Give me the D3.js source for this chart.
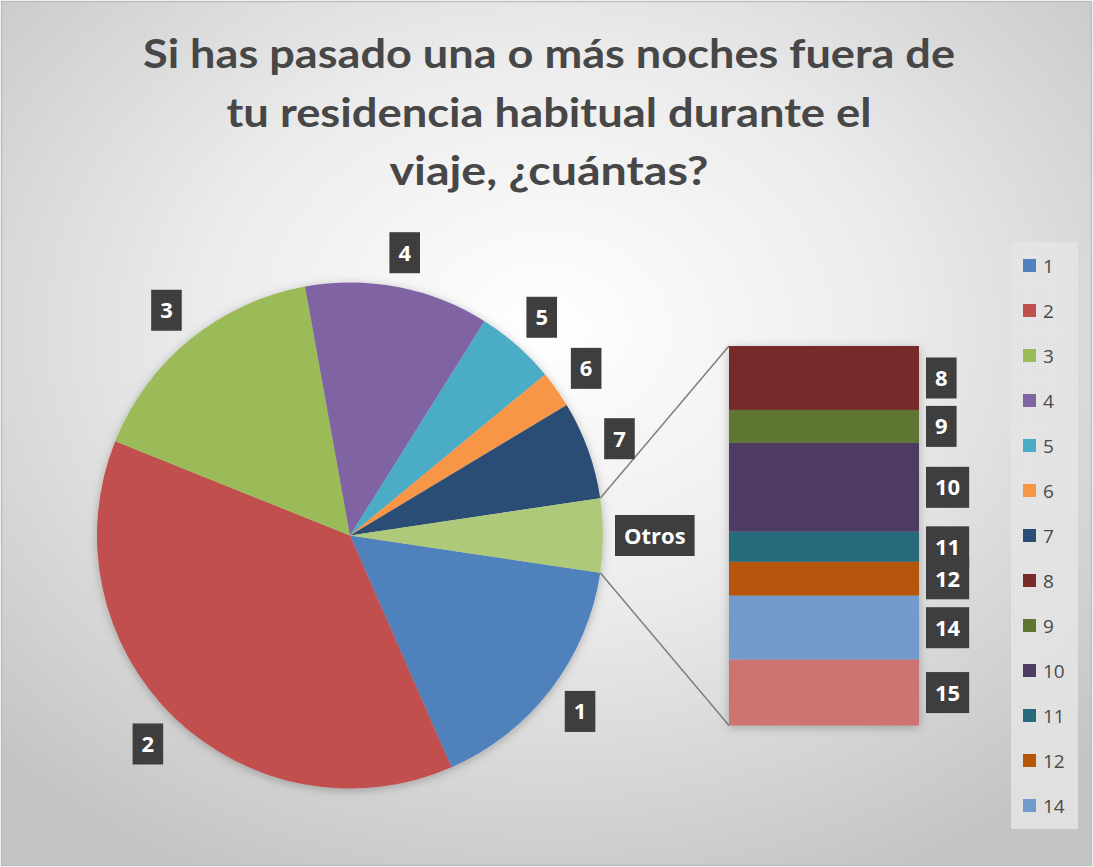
<!DOCTYPE html>
<html>
<head>
<meta charset="utf-8">
<script src="https://cdn.jsdelivr.net/npm/d3@7"></script>
<style>
  body { margin: 0; background: #fff; }
  svg { display: block; }
</style>
</head>
<body>
<svg id="chart"></svg>
<script>
// data
let pieCats = ['1', '2', '3', '4', '5', '6', '7']
let pieVals = [41, 96, 41, 30, 13, 6, 16]
let barCats = ['8', '9', '10', '11', '12', '14', '15']
let barVals = [2.02, 1.04, 2.81, 0.95, 1.07, 2.02, 2.08]
let otherLabel = 'Otros'
let legendCats = ['1', '2', '3', '4', '5', '6', '7', '8', '9', '10', '11', '12', '14', '15']
let titleLines = ['Si has pasado una o más noches fuera de', 'tu residencia habitual durante el', 'viaje, ¿cuántas?']

let colors = {
  '1': '#4f81bd', '2': '#c0504d', '3': '#9bbb59', '4': '#8064a2', '5': '#4bacc6',
  '6': '#f79646', '7': '#2c4d75', '8': '#772c2a', '9': '#5f7530', '10': '#4d3b62',
  '11': '#276a7c', '12': '#b65708', '14': '#729aca', '15': '#cd7371', 'Otros': '#afc97a'
}

let W = 1093, H = 867
let svg = d3.select('#chart')
svg.attr('width', W).attr('height', H)

let defs = svg.append('defs')
let bg = defs.append('radialGradient').attr('id', 'bg')
  .attr('cx', '50%').attr('cy', '38%').attr('r', '70%')
bg.append('stop').attr('offset', '0%').attr('stop-color', '#ffffff')
bg.append('stop').attr('offset', '45%').attr('stop-color', '#ececec')
bg.append('stop').attr('offset', '100%').attr('stop-color', '#c4c4c4')

let pat = defs.append('pattern').attr('id', 'dots')
  .attr('width', 4).attr('height', 4).attr('patternUnits', 'userSpaceOnUse')
pat.append('rect').attr('width', 4).attr('height', 4).attr('fill', '#3d3d3d')
pat.append('rect').attr('x', 1).attr('y', 1).attr('width', 1).attr('height', 1).attr('fill', '#4e4e4e')

let pat2 = defs.append('pattern').attr('id', 'legdots')
  .attr('width', 3).attr('height', 3).attr('patternUnits', 'userSpaceOnUse')
pat2.append('rect').attr('width', 3).attr('height', 3).attr('fill', '#e6e6e6')
pat2.append('rect').attr('width', 1).attr('height', 1).attr('fill', '#dcdcdc')

let shadow = defs.append('filter').attr('id', 'shadow')
  .attr('x', '-20%').attr('y', '-20%').attr('width', '140%').attr('height', '140%')
shadow.append('feDropShadow').attr('dx', 0).attr('dy', 2)
  .attr('stdDeviation', 5).attr('flood-color', '#000').attr('flood-opacity', 0.25)

// background
svg.append('rect').attr('x', 1.5).attr('y', 1.5).attr('width', W - 3).attr('height', H - 3)
  .attr('fill', 'url(#bg)').attr('stroke', '#bdbdbd').attr('stroke-width', 1.5)

// title
let title = svg.append('g').attr('class', 'title')
let titleW = [812, 645, 319]
title.selectAll('text').data(titleLines).enter().append('text')
  .attr('x', 549)
  .attr('y', (d, i) => 68 + i * 58.5)
  .attr('text-anchor', 'middle')
  .attr('font-family', 'Lato, "Open Sans", sans-serif')
  .attr('font-weight', 'bold')
  .attr('font-size', 41)
  .attr('fill', '#474747')
  .attr('textLength', (d, i) => titleW[i])
  .attr('lengthAdjust', 'spacingAndGlyphs')
  .text(d => d)

// pie
let cx = 350, cy = 535.5, r = 253
let otherTotal = d3.sum(barVals)
let total = d3.sum(pieVals) + otherTotal
let otherAng = 2 * Math.PI * otherTotal / total
let a0 = Math.PI / 2 + otherAng / 2

let pieData = pieCats.map((c, i) => ({ cat: c, v: pieVals[i] }))
pieData.push({ cat: otherLabel, v: otherTotal })
let arcs = d3.pie().sort(null).value(d => d.v)
  .startAngle(a0).endAngle(a0 + 2 * Math.PI)(pieData)
let arc = d3.arc().innerRadius(0).outerRadius(r)

let pieG = svg.append('g').attr('transform', `translate(${cx},${cy})`)
pieG.append('g').attr('filter', 'url(#shadow)')
  .selectAll('path').data(arcs).enter().append('path')
  .attr('d', arc)
  .attr('fill', d => colors[d.data.cat])

// bar of "Otros"
let barX0 = 729, barX1 = 919
let y = d3.scaleLinear().domain([0, otherTotal]).range([346, 725.5])
let cum = 0
let barData = barCats.map((c, i) => {
  let d = { cat: c, v: barVals[i], y0: cum, y1: cum + barVals[i] }
  cum += barVals[i]
  return d
})

// connector lines
let oArc = arcs[arcs.length - 1]
let pt = a => [cx + r * Math.sin(a), cy - r * Math.cos(a)]
let pTop = pt(oArc.startAngle), pBot = pt(oArc.endAngle)
svg.append('g').selectAll('line')
  .data([[pTop, [barX0, y(0)]], [pBot, [barX0, y(otherTotal)]]])
  .enter().append('line')
  .attr('x1', d => d[0][0]).attr('y1', d => d[0][1])
  .attr('x2', d => d[1][0]).attr('y2', d => d[1][1])
  .attr('stroke', '#7f7f7f').attr('stroke-width', 1.5)

svg.append('g').attr('filter', 'url(#shadow)')
  .selectAll('rect').data(barData).enter().append('rect')
  .attr('x', barX0).attr('width', barX1 - barX0)
  .attr('y', d => y(d.y0)).attr('height', d => y(d.y1) - y(d.y0))
  .attr('fill', d => colors[d.cat])

// data labels
function label(g, txt, x, yy, anchor) {
  let t = g.append('text').text(txt)
    .attr('font-family', '"Open Sans", sans-serif').attr('font-weight', 'bold')
    .attr('font-size', 22).attr('fill', '#fff')
  let w = t.node().getComputedTextLength()
  let bw = w + 18, bh = 41
  let bx = anchor === 'start' ? x : x - bw / 2
  g.insert('rect', 'text:last-child')
    .attr('x', bx).attr('y', yy - bh / 2).attr('width', bw).attr('height', bh)
    .attr('fill', 'url(#dots)')
  t.attr('x', bx + bw / 2).attr('y', yy + 8).attr('text-anchor', 'middle')
}

let labG = svg.append('g')
arcs.forEach(d => {
  let a = (d.startAngle + d.endAngle) / 2
  let g = labG.append('g')
  let txt = d.data.cat
  let tmp = g.append('text').text(txt).attr('font-family', '"Open Sans", sans-serif')
    .attr('font-weight', 'bold').attr('font-size', 22)
  let hw = (tmp.node().getComputedTextLength() + 18) / 2, hh = 20.5
  tmp.remove()
  let dist = r + 12 + Math.abs(Math.sin(a)) * hw + Math.abs(Math.cos(a)) * hh
  label(g, txt, cx + dist * Math.sin(a), cy - dist * Math.cos(a), 'middle')
})
barData.forEach(d => {
  label(labG.append('g'), d.cat, barX1 + 7, y((d.y0 + d.y1) / 2), 'start')
})

// legend
let lx = 1011, ly = 242, lw = 67, lh = 587
svg.append('rect').attr('x', lx).attr('y', ly).attr('width', lw).attr('height', lh)
  .attr('fill', 'url(#legdots)').attr('opacity', 0.85)
defs.append('clipPath').attr('id', 'legclip').append('rect')
  .attr('x', lx).attr('y', ly).attr('width', lw).attr('height', lh)
let leg = svg.append('g').attr('clip-path', 'url(#legclip)')
  .selectAll('g').data(legendCats).enter().append('g')
  .attr('transform', (d, i) => `translate(${lx + 12},${ly + 23.5 + i * 45})`)
leg.append('rect').attr('x', 0).attr('y', -6.5).attr('width', 13).attr('height', 13)
  .attr('fill', d => colors[d])
leg.append('text').attr('x', 20).attr('y', 7)
  .attr('font-family', '"Open Sans", sans-serif').attr('font-size', 19)
  .attr('fill', '#4a4a4a').text(d => d)
</script>
</body>
</html>
